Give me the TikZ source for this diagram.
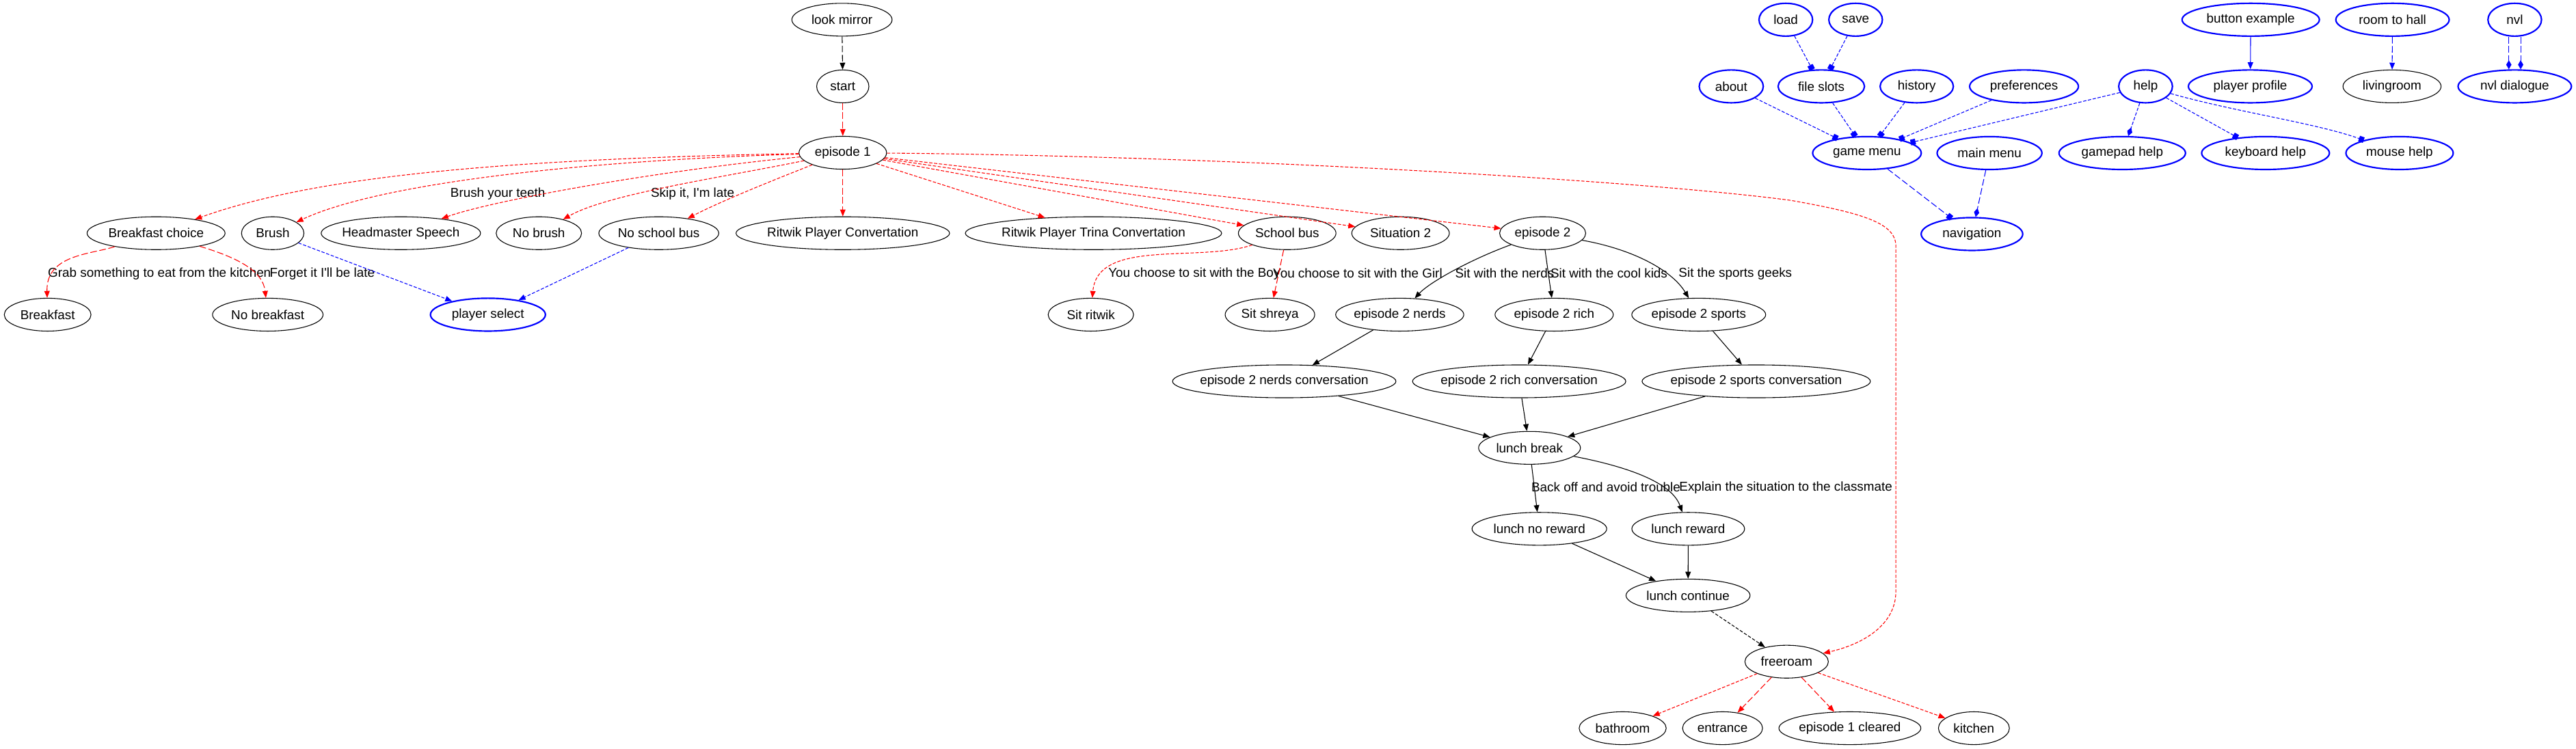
\documentclass[tikz,border=0pt]{standalone}
\usepackage{fontspec}
\newfontfamily\gvfont{Liberation Sans}
\usetikzlibrary{shapes.geometric,arrows.meta}
\begin{document}
\begin{tikzpicture}[x=1pt,y=-1pt,
 every node/.style={font=\gvfont\fontsize{7.85}{9}\selectfont},
 gv/.style={ellipse,draw=black,line width=0.45pt,inner sep=0pt,minimum height=20pt,
   execute at begin node={\hbox to 0pt\bgroup\hss},execute at end node={\hss\egroup}},
 bn/.style={gv,draw=blue,line width=0.9pt},
 lab/.style={anchor=west,inner sep=0pt},
 ds/.style={dash pattern=on 2pt off 1pt},
 dl/.style={dash pattern=on 4pt off 1.6pt},
 tri/.style={-{Triangle[length=4.2pt,width=3.3pt]}},
 boxt/.style={-{Rectangle[length=3pt,width=3.5pt]}},
 diat/.style={-{Diamond[length=5.5pt,width=3.2pt]}},
 ke/.style={draw=black,line width=0.45pt,tri},
 re/.style={draw=red,line width=0.45pt,tri},
 be/.style={draw=blue,line width=0.45pt},
]
\useasboundingbox (0,0) rectangle (1568,456);
% ---- story nodes
\node[gv,minimum width=61pt] (lm) at (512.5,12) {look mirror};
\node[gv,minimum width=31.8pt] (st) at (513,52.6) {start};
\node[gv,minimum width=53.3pt] (e1) at (513,93) {episode 1};
\node[gv,minimum width=84pt] (bc) at (95,142) {Breakfast choice};
\node[gv,minimum width=38pt] (br) at (166,142) {Brush};
\node[gv,minimum width=97pt] (hs) at (244,142) {Headmaster Speech};
\node[gv,minimum width=52pt] (nb) at (328,142) {No brush};
\node[gv,minimum width=73pt] (nsb) at (401,142) {No school bus};
\node[gv,minimum width=130pt] (rpc) at (513,142) {Ritwik Player Convertation};
\node[gv,minimum width=156pt] (rptc) at (665.6,142) {Ritwik Player Trina Convertation};
\node[gv,minimum width=59.4pt] (sb) at (783.5,142) {School bus};
\node[gv,minimum width=59.4pt] (s2) at (852.5,142) {Situation 2};
\node[gv,minimum width=52.4pt] (e2) at (939,142) {episode 2};
\node[gv,minimum width=52.8pt] (bf) at (29,191.6) {Breakfast};
\node[gv,minimum width=67.3pt] (nbf) at (163,191.6) {No breakfast};
\node[bn,minimum width=70pt] (ps) at (297,191.6) {player select};
\node[gv,minimum width=52pt] (sr) at (664,191.6) {Sit ritwik};
\node[gv,minimum width=54.5pt] (ssh) at (773,191.6) {Sit shreya};
\node[gv,minimum width=78pt] (e2n) at (852,191.6) {episode 2 nerds};
\node[gv,minimum width=72pt] (e2r) at (946,191.6) {episode 2 rich};
\node[gv,minimum width=81.5pt] (e2s) at (1034,191.6) {episode 2 sports};
\node[gv,minimum width=136pt] (e2nc) at (781.7,232.2) {episode 2 nerds conversation};
\node[gv,minimum width=129.8pt] (e2rc) at (924.7,232.2) {episode 2 rich conversation};
\node[gv,minimum width=139pt] (e2sc) at (1069,232.2) {episode 2 sports conversation};
\node[gv,minimum width=62pt] (lb) at (931,272.7) {lunch break};
\node[gv,minimum width=82pt] (lnr) at (937,322) {lunch no reward};
\node[gv,minimum width=68.6pt] (lr) at (1027.6,322) {lunch reward};
\node[gv,minimum width=75.5pt] (lc) at (1027.5,362.6) {lunch continue};
\node[gv,minimum width=50.8pt] (fr) at (1087.5,402.9) {freeroam};
\node[gv,minimum width=53pt] (bath) at (987.7,443.4) {bathroom};
\node[gv,minimum width=48.7pt] (ent) at (1048.5,443.4) {entrance};
\node[gv,minimum width=86.4pt] (e1c) at (1126,443.4) {episode 1 cleared};
\node[gv,minimum width=43.2pt] (kit) at (1201.5,443.4) {kitchen};
% ---- menu nodes
\node[bn,minimum width=32.6pt] (load) at (1087,12) {load};
\node[bn,minimum width=32.6pt] (save) at (1129.5,12) {save};
\node[bn,minimum width=83.6pt] (bex) at (1370,12) {button example};
\node[bn,minimum width=69pt] (rth) at (1456.3,12) {room to hall};
\node[bn,minimum width=32.6pt] (nvl) at (1530.7,12) {nvl};
\node[bn,minimum width=39pt] (about) at (1053.8,52.6) {about};
\node[bn,minimum width=52.6pt] (fs) at (1108.6,52.6) {file slots};
\node[bn,minimum width=44.6pt] (hist) at (1166.7,52.6) {history};
\node[bn,minimum width=66.2pt] (pref) at (1232,52.6) {preferences};
\node[bn,minimum width=32.7pt] (help) at (1306,52.6) {help};
\node[bn,minimum width=75.3pt] (pp) at (1369.7,52.6) {player profile};
\node[gv,minimum width=59.7pt] (liv) at (1456,52.6) {livingroom};
\node[bn,minimum width=69pt] (nvld) at (1530.7,52.6) {nvl dialogue};
\node[bn,minimum width=66.1pt] (gm) at (1136.4,93.2) {game menu};
\node[bn,minimum width=63.8pt] (mm) at (1211,93.2) {main menu};
\node[bn,minimum width=77pt] (gph) at (1291.8,93.2) {gamepad help};
\node[bn,minimum width=77.8pt] (kbh) at (1379,93.2) {keyboard help};
\node[bn,minimum width=65.3pt] (mh) at (1460.6,93.2) {mouse help};
\node[bn,minimum width=61.8pt] (nav) at (1200.3,142.5) {navigation};
% ---- edge labels
\node[lab] (l1) at (274,118) {Brush your teeth};
\node[lab] (l2) at (396,118) {Skip it, I'm late};
\node[lab] (l3) at (29,166.7) {Grab something to eat from the kitchen};
\node[lab] (l4) at (164,166.7) {Forget it I'll be late};
\node[lab] (l5) at (674.5,166.5) {You choose to sit with the Boy};
\node[lab] (l6) at (774.6,166.5) {You choose to sit with the Girl};
\node[lab] (l7) at (885.6,166.5) {Sit with the nerds};
\node[lab] (l8) at (943.6,166.5) {Sit with the cool kids};
\node[lab] (l9) at (1021.6,166.5) {Sit the sports geeks};
\node[lab] (l10) at (932,296.8) {Back off and avoid trouble};
\node[lab] (l11) at (1022,296.8) {Explain the situation to the classmate};
% ---- story edges
\draw[ke,dl] (lm) -- (st);
\draw[re,dl] (st) -- (e1);
\draw[re,ds] (e1) .. controls (300,97) and (190,108) .. (bc);
\draw[re,ds] (e1) .. controls (350,98) and (230,112) .. (br);
\draw[re,ds] (e1) .. controls (400,104) and (300,122) .. (hs);
\draw[re,ds] (e1) .. controls (440,108) and (370,118) .. (nb);
\draw[re,ds] (e1) .. controls (470,110) and (440,122) .. (nsb);
\draw[re,dl] (e1) -- (rpc);
\draw[re,ds] (e1) -- (rptc);
\draw[re,ds] (e1) -- (sb);
\draw[re,ds] (e1) -- (s2);
\draw[re,ds] (e1) -- (e2);
\draw[re,ds] (e1) .. controls (750,95) and (1000,110) .. (1090,122)
  .. controls (1135,130) and (1154,136) .. (1154,150) -- (1154,360)
  .. controls (1154,380) and (1135,392) .. (fr);
\draw[re,dl] (bc) .. controls (55,155) and (28,155) .. (bf);
\draw[re,dl] (bc) .. controls (145,157) and (160,165) .. (nbf);
\draw[be,tri,ds] (br) -- (ps);
\draw[be,tri,ds] (nsb) -- (ps);
\draw[re,ds] (sb) .. controls (730,160) and (668,145) .. (sr);
\draw[re,dl] (sb) -- (ssh);
\draw[ke] (e2) .. controls (895,158) and (870,172) .. (e2n);
\draw[ke] (e2) -- (e2r);
\draw[ke] (e2) .. controls (995,152) and (1018,165) .. (e2s);
\draw[ke] (e2n) -- (e2nc);
\draw[ke] (e2r) -- (e2rc);
\draw[ke] (e2s) -- (e2sc);
\draw[ke] (e2nc) -- (lb);
\draw[ke] (e2rc) -- (lb);
\draw[ke] (e2sc) -- (lb);
\draw[ke] (lb) -- (lnr);
\draw[ke] (lb) .. controls (995,285) and (1018,295) .. (lr);
\draw[ke] (lnr) -- (lc);
\draw[ke] (lr) -- (lc);
\draw[ke,ds] (lc) -- (fr);
\draw[re,ds] (fr) -- (bath);
\draw[re,dl] (fr) -- (ent);
\draw[re,dl] (fr) -- (e1c);
\draw[re,ds] (fr) -- (kit);
% ---- menu edges
\draw[be,boxt,ds] (load) -- (fs);
\draw[be,boxt,ds] (save) -- (fs);
\draw[be,boxt,ds] (about) -- (gm);
\draw[be,boxt,ds] (fs) -- (gm);
\draw[be,boxt,ds] (hist) -- (gm);
\draw[be,boxt,ds] (pref) -- (gm);
\draw[be,boxt,ds] (help) -- (gm);
\draw[be,diat,ds] (help) -- (gph);
\draw[be,boxt,ds] (help) -- (kbh);
\draw[be,boxt,ds] (help) .. controls (1360,68) and (1410,75) .. (mh);
\draw[be,boxt,dl] (gm) -- (nav);
\draw[be,diat,dl] (mm) -- (nav);
\draw[be,tri] (bex) -- (pp);
\draw[be,tri,dl] (rth) -- (liv);
\draw[be,diat,dl] ([xshift=-3.6pt]nvl.south) -- ([xshift=-3.6pt]nvld.north);
\draw[be,diat,dl] ([xshift=3.6pt]nvl.south) -- ([xshift=3.6pt]nvld.north);
\end{tikzpicture}
\end{document}
